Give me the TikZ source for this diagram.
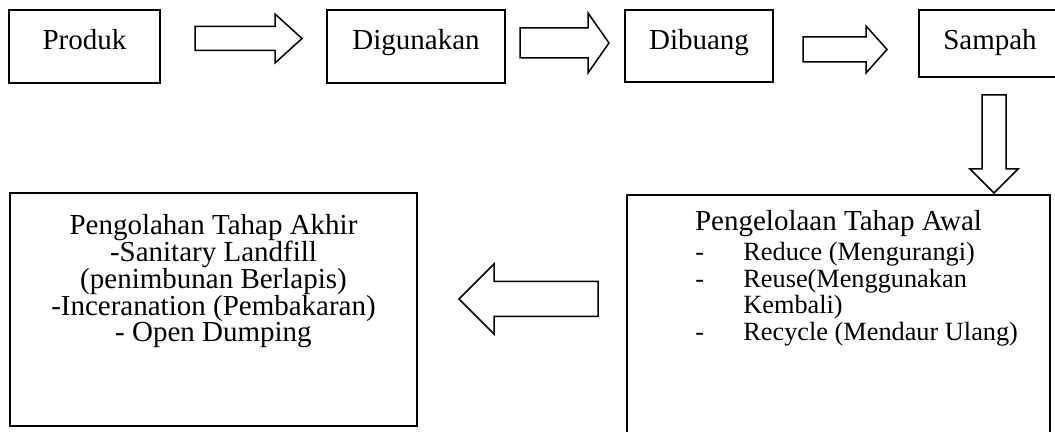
\documentclass[tikz,border=0pt]{standalone}
\usepackage{fontspec}
\setmainfont{Liberation Serif}
\usetikzlibrary{positioning,calc}
\lineskiplimit=-10pt

\begin{document}
\begin{tikzpicture}[x=0.5pt,y=-0.5pt,
  box/.style={draw,line width=1pt,inner sep=0pt,outer sep=0pt},
  txt/.style={inner sep=0pt,font={\fontsize{14.5}{13.4}\selectfont},align=center},
  lst/.style={inner sep=0pt,font={\fontsize{13.15}{13.35}\selectfont},align=left},
  pics/barrow/.style n args={4}{code={
    \draw[line width=0.75pt,line join=miter]
      (0,-#2/2) -- ({#1-#4},-#2/2) -- ({#1-#4},-#3/2) -- (#1,0)
      -- ({#1-#4},#3/2) -- ({#1-#4},#2/2) -- (0,#2/2) -- cycle;}}]
  \useasboundingbox (0,0) rectangle (1055,432);
  % boxes
  \node[box,anchor=north west,minimum width=75.5pt,minimum height=36.5pt] (produk) at (9,10) {};
  \node[box,right=83.5pt of produk.north east,anchor=north west,minimum width=89pt,minimum height=36.5pt] (digunakan) {};
  \node[box,right=60pt of digunakan.north east,anchor=north west,minimum width=74pt,minimum height=36pt] (dibuang) {};
  \node[box,right=73pt of dibuang.north east,anchor=north west,minimum width=71pt,minimum height=33.5pt] (sampah) {};
  \node[box,anchor=north west,minimum width=211.5pt,minimum height=135pt] (awal) at (627,195) {};
  \node[box,anchor=north west,minimum width=203.5pt,minimum height=116.5pt] (akhir) at (10,193) {};
  % texts
  \node[txt,anchor=base] (produkt) at ($(produk.north)+(0,39.5)$) {Produk};
  \node[txt,anchor=base] (digunakant) at ($(digunakan.north)+(0,39.5)$) {Digunakan};
  \node[txt,anchor=base] (dibuangt) at ($(dibuang.north)+(0,39.5)$) {Dibuang};
  \node[txt,anchor=base] (sampaht) at ($(sampah.north)+(0,39.5)$) {Sampah};
  \node[txt,anchor=base] (awalt) at ($(awal.north)+(0,36)$) {Pengelolaan Tahap Awal};
  \node[lst,anchor=north west] (awall) at ($(awal.north west)+(68,46.8)$)
    {\makebox[24pt][l]{-}Reduce (Mengurangi)\\
     \makebox[24pt][l]{-}Reuse(Menggunakan\\
     \hspace*{24pt}Kembali)\\
     \makebox[24pt][l]{-}Recycle (Mendaur Ulang)};
  \node[txt,anchor=north] (akhirt) at ($(akhir.north)+(0,21.2)$)
    {Pengolahan Tahap Akhir\\-Sanitary Landfill\\(penimbunan Berlapis)\\-Inceranation (Pembakaran)\\- Open Dumping};
  % block arrows
  \pic (arr1) at ($(produk.north east)+(35,28.5)$) {barrow={107}{24}{49}{27}};
  \pic (arr2) at ($(digunakan.north east)+(15,33)$) {barrow={89}{30}{60}{21}};
  \pic (arr3) at ($(dibuang.north east)+(30,39.5)$) {barrow={84}{25}{47}{21}};
  \pic[rotate=-90] (arr4) at ($(sampah.south west)+(75,18)$) {barrow={98}{24}{48}{24}};
  \pic[rotate=180] (arr5) at ($(awal.north west)+(-29,104)$) {barrow={139}{35}{70}{35}};
\end{tikzpicture}
\end{document}
